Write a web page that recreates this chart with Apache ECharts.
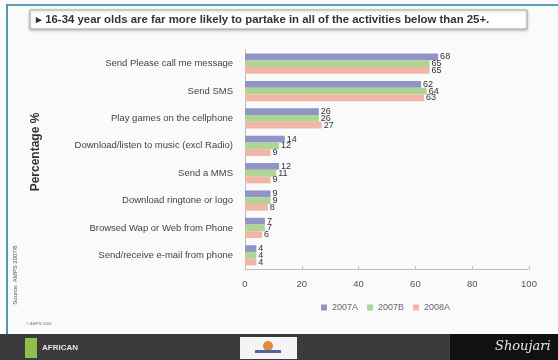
<!DOCTYPE html>
<html><head><meta charset="utf-8">
<script src="https://cdn.jsdelivr.net/npm/echarts@6/dist/echarts.min.js"></script>
<style>html,body{margin:0;padding:0;background:#fff}#c{width:558px;height:360px}</style>
</head><body><div id="c"></div>
<script>
const categories = ['Send Please call me message','Send SMS','Play games on the cellphone','Download/listen to music (excl Radio)','Send a MMS','Download ringtone or logo','Browsed Wap or Web from Phone','Send/receive e-mail from phone'];
const s2007A = [68, 62, 26, 14, 12, 9, 7, 4];
const s2007B = [65, 64, 26, 12, 11, 9, 7, 4];
const s2008A = [65, 63, 27, 9, 9, 8, 6, 4];
const seriesNames = ['2007A','2007B','2008A'];
const xTicks = [0, 20, 40, 60, 80, 100];
const colors = ['#9095c6','#afd494','#f2b6a6'];

const chart = echarts.init(document.getElementById('c'));
const lab = {show:true, position:'right', fontSize:9, color:'#333', distance:2, fontFamily:'Liberation Sans'};
chart.setOption({
  animation:false,
  backgroundColor:'#fafafa',
  graphic:[
    {type:'rect', shape:{x:0,y:0,width:6,height:360}, style:{fill:'#ffffff'}},
    {type:'rect', shape:{x:6,y:4,width:552,height:2}, style:{fill:'#5a9fb5'}},
    {type:'rect', shape:{x:6,y:4,width:2,height:330}, style:{fill:'#4f98b0'}},
    {type:'rect', shape:{x:30,y:10,width:497,height:19}, style:{fill:'#fff', stroke:'#aaa', lineWidth:1, shadowBlur:3, shadowColor:'rgba(0,0,0,0.25)', shadowOffsetY:1}},
    {type:'text', left:36, top:14, style:{text:'▸ 16-34 year olds are far more likely to partake in all of the activities below than 25+.', fontSize:11.4, fontWeight:'bold', fill:'#333', fontFamily:'Liberation Sans'}},
    {type:'text', x:36, y:152, rotation:Math.PI/2, style:{text:'Percentage %', fontSize:12, fontWeight:'bold', fill:'#333', align:'center', verticalAlign:'middle', fontFamily:'Liberation Sans'}},
    {type:'text', x:15, y:275, rotation:Math.PI/2, style:{text:'Source: AMPS 2007/8', fontSize:6, fill:'#555', align:'center', verticalAlign:'middle', fontFamily:'Liberation Sans'}},
    {type:'text', left:26, top:322, style:{text:'© AMPS 2008', fontSize:4, fill:'#777'}},
    {type:'rect', shape:{x:0,y:334,width:558,height:26}, style:{fill:'#3b3b3b'}},
    {type:'rect', shape:{x:450,y:334,width:108,height:26}, style:{fill:'#111'}},
    {type:'rect', shape:{x:240,y:337,width:57,height:22}, style:{fill:'#f4f4f4'}},
    {type:'circle', shape:{cx:268,cy:346,r:5}, style:{fill:'#e08a3a'}},
    {type:'rect', shape:{x:255,y:350,width:26,height:3}, style:{fill:'#4c63a8'}},
    {type:'rect', shape:{x:25,y:338,width:12,height:20}, style:{fill:'#8fbf4a'}},
    {type:'text', left:42, top:344, style:{text:'AFRICAN', fontSize:8, fontWeight:'bold', fill:'#e8e8e8', fontFamily:'Liberation Sans'}},
    {type:'text', left:495, top:340, style:{text:'Shoujari', fontSize:13, fontStyle:'italic', fill:'#e8e8e8', fontFamily:'DejaVu Serif'}}
  ],
  legend:{data:seriesNames, left:316, top:298, itemWidth:6, itemHeight:6, itemGap:9, icon:'rect', textStyle:{fontSize:9, color:'#666', fontFamily:'Liberation Sans'}},
  grid:{left:245, right:29, top:50, bottom:91},
  xAxis:{type:'value', min:xTicks[0], max:xTicks[xTicks.length-1], interval:20,
    axisLine:{show:true, lineStyle:{color:'#bbb'}}, axisTick:{show:true, inside:true, length:3, lineStyle:{color:'#bbb'}},
    splitLine:{show:false}, axisLabel:{fontSize:9.5, color:'#555', margin:10, fontFamily:'Liberation Sans'}},
  yAxis:{type:'category', data:categories, inverse:true,
    axisLine:{show:true, lineStyle:{color:'#bbb'}}, axisTick:{show:false},
    axisLabel:{fontSize:9.5, color:'#444', margin:12, fontFamily:'Liberation Sans'}},
  series:[
    {name:seriesNames[0], type:'bar', data:s2007A, itemStyle:{color:colors[0]}, barGap:'0%', barCategoryGap:'26%', label:lab},
    {name:seriesNames[1], type:'bar', data:s2007B, itemStyle:{color:colors[1]}, label:lab},
    {name:seriesNames[2], type:'bar', data:s2008A, itemStyle:{color:colors[2]}, label:lab}
  ]
});
</script></body></html>
